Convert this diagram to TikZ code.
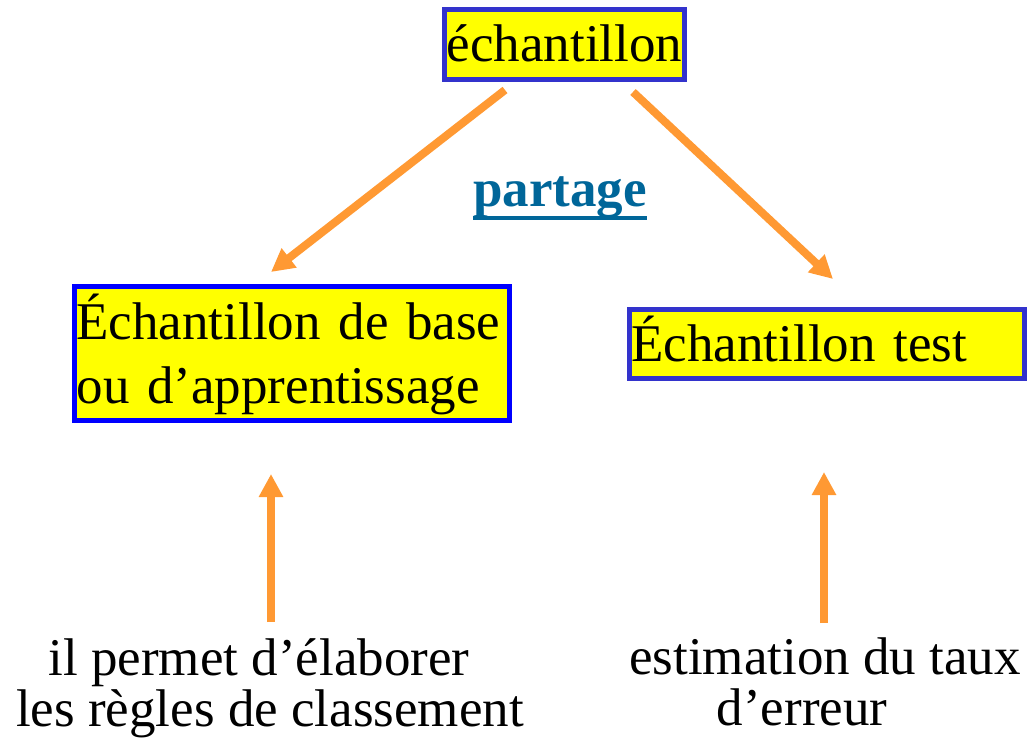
\documentclass[tikz,border=0pt]{standalone}
\usepackage{fontspec}
\setmainfont{Liberation Serif}
\usetikzlibrary{arrows.meta}

\definecolor{boxfill}{HTML}{FFFF00}
\definecolor{boxline}{HTML}{3333CC}
\definecolor{boxlinebright}{HTML}{0000FF}
\definecolor{arrowcol}{HTML}{FF9933}
\definecolor{labelblue}{HTML}{006699}

\tikzset{
  bigtext/.style={font=\fontsize{53pt}{64pt}\selectfont},
  yellowbox/.style={bigtext, fill=boxfill, draw=boxline, line width=5pt,
    inner xsep=2pt, inner ysep=0pt, outer sep=0pt},
  plaintext/.style={font=\fontsize{53pt}{51pt}\selectfont, align=center,
    inner sep=0pt},
  flow/.style={draw=arrowcol, line width=8pt,
    -{Triangle[width=23pt,length=23pt]}},
}

\begin{document}
\begin{tikzpicture}[x=1pt, y=-1pt]
  \useasboundingbox (0,0) rectangle (1027,738);

  % sample and its two parts
  \node[yellowbox, anchor=base, inner xsep=0pt, minimum width=240pt,
        text height=52.5pt, text depth=17.5pt] (ech) at (564.5,62) {échantillon};
  \node[yellowbox, draw=boxlinebright, anchor=base west, align=left,
        text width=431pt, text height=52.5pt, text depth=81.5pt]
        (base) at (74.5,339) {\mbox{Échantillon de base}\\ou d’apprentissage};
  \node[yellowbox, anchor=base west, align=left, text width=391pt,
        text height=51.5pt, text depth=17.5pt]
        (test) at (629.5,361) {Échantillon test};

  % split label
  \node[bigtext, font=\fontsize{53pt}{64pt}\selectfont\bfseries,
        text=labelblue, anchor=base, inner sep=0pt] (partage) at (560,207) {partage};
  \draw[labelblue, line width=4pt]
    ([yshift=-11pt]partage.base west) -- ([yshift=-11pt]partage.base east);

  % purposes (base anchor sits on the last line)
  \node[plaintext, anchor=base] (regles) at (270,726)
    {il permet d’élaborer\hspace*{22pt}\\les règles de classement};
  \node[plaintext, anchor=base] (erreur) at (825,725)
    {estimation du taux\\d’erreur\hspace*{46pt}};

  % arrow end points
  \coordinate (splitL) at (505,90);
  \coordinate (tipL)   at (271,272);
  \coordinate (splitR) at (633,92);
  \coordinate (tipR)   at (833,279);
  \coordinate (upLfoot) at (271,622);
  \coordinate (upLtip)  at (271,474);
  \coordinate (upRfoot) at (824,623);
  \coordinate (upRtip)  at (824,472);

  \draw[flow] (splitL) -- (tipL);
  \draw[flow] (splitR) -- (tipR);
  \draw[flow] (upLfoot) -- (upLtip);
  \draw[flow] (upRfoot) -- (upRtip);
\end{tikzpicture}
\end{document}
